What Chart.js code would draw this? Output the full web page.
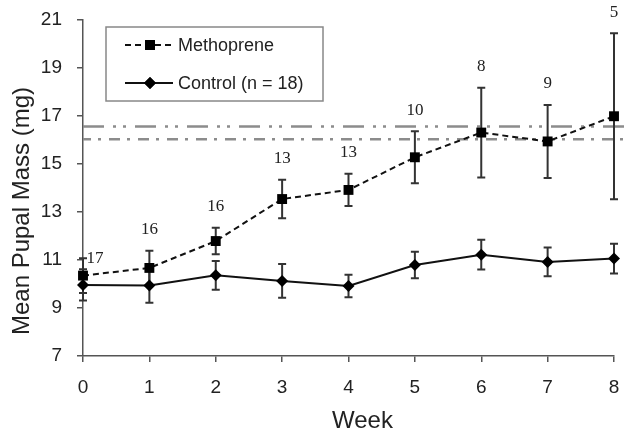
<!DOCTYPE html>
<html>
<head>
<meta charset="utf-8">
<script src="https://cdn.jsdelivr.net/npm/chart.js@4.4.0/dist/chart.umd.min.js"></script>
<style>
html, body { margin: 0; padding: 0; background: #fff; }
</style>
</head>
<body>
<canvas id="mycanvas" width="629" height="435"></canvas>
<script>
// values
var weeks = [0, 1, 2, 3, 4, 5, 6, 7, 8];
var methMean = [10.35, 10.67, 11.79, 13.54, 13.92, 15.28, 16.31, 15.94, 16.99];
var methErr = [0.72, 0.72, 0.55, 0.80, 0.67, 1.08, 1.87, 1.52, 3.46];
var methN = [17, 16, 16, 13, 13, 10, 8, 9, 5];
var ctrlMean = [9.96, 9.94, 10.36, 10.13, 9.92, 10.79, 11.22, 10.92, 11.06];
var ctrlErr = [0.65, 0.72, 0.60, 0.70, 0.47, 0.55, 0.62, 0.60, 0.62];
var refLines = [16.56, 16.03];
var yTitle = "Mean Pupal Mass (mg)";
var xTitle = "Week";

var sans = "'Liberation Sans', Arial, sans-serif";
var serif = "'Liberation Serif', 'Times New Roman', serif";

function pts(vals) {
	var out = [];
	for (var i in weeks) {
		out.push({x: weeks[i], y: vals[i]});
	}
	return out;
}

var extras = {
	id: 'extras',
	beforeDatasetsDraw: function(chart) {
		var ctx = chart.ctx;
		var xs = chart.scales.x, ys = chart.scales.y;
		var area = chart.chartArea;

		// dash-dot reference lines
		var dashes = [[21, 9, 3, 7, 3, 9], [11, 7, 3, 8]];
		ctx.save();
		ctx.strokeStyle = '#8c8c8c';
		ctx.lineWidth = 2.5;
		for (var i = 0; i < refLines.length; i++) {
			var y = ys.getPixelForValue(refLines[i]);
			ctx.setLineDash(dashes[i]);
			ctx.lineDashOffset = i == 1 ? 3 : 0;
			ctx.beginPath();
			ctx.moveTo(area.left, y);
			ctx.lineTo(chart.width, y);
			ctx.stroke();
		}
		ctx.restore();

		// error bars
		ctx.save();
		ctx.strokeStyle = '#333';
		ctx.lineWidth = 2;
		chart.data.datasets.forEach(function(ds) {
			for (var j = 0; j < ds.data.length; j++) {
				var px = xs.getPixelForValue(ds.data[j].x);
				var top = ys.getPixelForValue(ds.data[j].y + ds.errors[j]);
				var bot = ys.getPixelForValue(ds.data[j].y - ds.errors[j]);
				ctx.beginPath();
				ctx.moveTo(px, top); ctx.lineTo(px, bot);
				ctx.moveTo(px - 4, top); ctx.lineTo(px + 4, top);
				ctx.moveTo(px - 4, bot); ctx.lineTo(px + 4, bot);
				ctx.stroke();
			}
		});
		ctx.restore();
	},
	afterDraw: function(chart) {
		var ctx = chart.ctx;
		var xs = chart.scales.x, ys = chart.scales.y;
		var area = chart.chartArea;

		// sample sizes above the Methoprene points
		ctx.save();
		ctx.fillStyle = '#222';
		ctx.font = '17px ' + serif;
		ctx.textAlign = 'center';
		ctx.textBaseline = 'middle';
		for (var i = 0; i < methN.length; i++) {
			var px = xs.getPixelForValue(weeks[i]);
			var top = ys.getPixelForValue(methMean[i] + methErr[i]);
			if (i == 0) {
				ctx.fillText(String(methN[i]), px + 12, top);
			} else {
				ctx.fillText(String(methN[i]), px, top - 21);
			}
		}
		ctx.restore();

		// legend
		ctx.save();
		ctx.strokeStyle = '#888';
		ctx.lineWidth = 1.5;
		ctx.strokeRect(106, 27, 217, 74);
		ctx.font = '18px ' + sans;
		ctx.fillStyle = '#222';
		ctx.textAlign = 'left';
		ctx.textBaseline = 'middle';
		var rowsY = [45, 83];
		chart.data.datasets.forEach(function(ds, k) {
			var y = rowsY[k];
			ctx.save();
			ctx.strokeStyle = ds.borderColor;
			ctx.lineWidth = ds.borderWidth;
			ctx.setLineDash(ds.borderDash || []);
			ctx.beginPath();
			ctx.moveTo(125, y);
			ctx.lineTo(173, y);
			ctx.stroke();
			ctx.restore();
			ctx.fillStyle = '#000';
			ctx.strokeStyle = '#000';
			Chart.helpers.drawPoint(ctx, {pointStyle: ds.pointStyle, radius: ds.pointRadius, rotation: 0, borderWidth: 0}, 150, y);
			ctx.fill();
			ctx.fillStyle = '#222';
			ctx.fillText(ds.label, 178, y + 1);
		});
		ctx.restore();

		// axis titles
		ctx.save();
		ctx.fillStyle = '#222';
		ctx.font = '24px ' + sans;
		ctx.textAlign = 'center';
		ctx.textBaseline = 'middle';
		ctx.fillText(xTitle, (area.left + area.right) / 2 + 14, 421);
		ctx.translate(22, (area.top + area.bottom) / 2 + 23);
		ctx.rotate(-Math.PI / 2);
		ctx.fillText(yTitle, 0, 0);
		ctx.restore();
	}
};

var ctx = document.getElementById('mycanvas');

var LineGraph = new Chart(ctx, {
	type: 'line',
	data: {
		datasets: [
			{
				label: 'Methoprene',
				data: pts(methMean),
				errors: methErr,
				borderColor: '#111',
				borderWidth: 2,
				borderDash: [6, 4],
				pointStyle: 'rect',
				pointRadius: 7,
				pointBackgroundColor: '#000',
				pointBorderColor: '#000',
				pointBorderWidth: 0,
				fill: false,
				tension: 0,
				clip: false
			},
			{
				label: 'Control (n = 18)',
				data: pts(ctrlMean),
				errors: ctrlErr,
				borderColor: '#111',
				borderWidth: 2,
				pointStyle: 'rectRot',
				pointRadius: 6,
				pointBackgroundColor: '#000',
				pointBorderColor: '#000',
				pointBorderWidth: 0,
				fill: false,
				tension: 0,
				clip: false
			}
		]
	},
	options: {
		responsive: false,
		animation: false,
		devicePixelRatio: 1,
		layout: { padding: { top: 20, right: 15, left: 0, bottom: 0 } },
		plugins: { legend: { display: false }, tooltip: { enabled: false } },
		scales: {
			x: {
				type: 'linear',
				min: 0,
				max: 8,
				ticks: { stepSize: 1, color: '#222', padding: 14, font: { family: sans, size: 19 } },
				grid: { drawOnChartArea: false, drawTicks: true, tickLength: 6, color: '#555', lineWidth: 1.5 },
				border: { color: '#555', width: 1.5 },
				afterFit: function(s) { s.height = 79; s.paddingLeft = 0; s.paddingRight = 0; }
			},
			y: {
				min: 7,
				max: 21,
				ticks: { stepSize: 2, color: '#222', padding: 15, font: { family: sans, size: 19 } },
				grid: { drawOnChartArea: false, drawTicks: true, tickLength: 6, color: '#555', lineWidth: 1.5 },
				border: { color: '#555', width: 1.5 },
				afterFit: function(s) { s.width = 83; s.paddingTop = 0; s.paddingBottom = 0; }
			}
		}
	},
	plugins: [extras]
});
</script>
</body>
</html>
